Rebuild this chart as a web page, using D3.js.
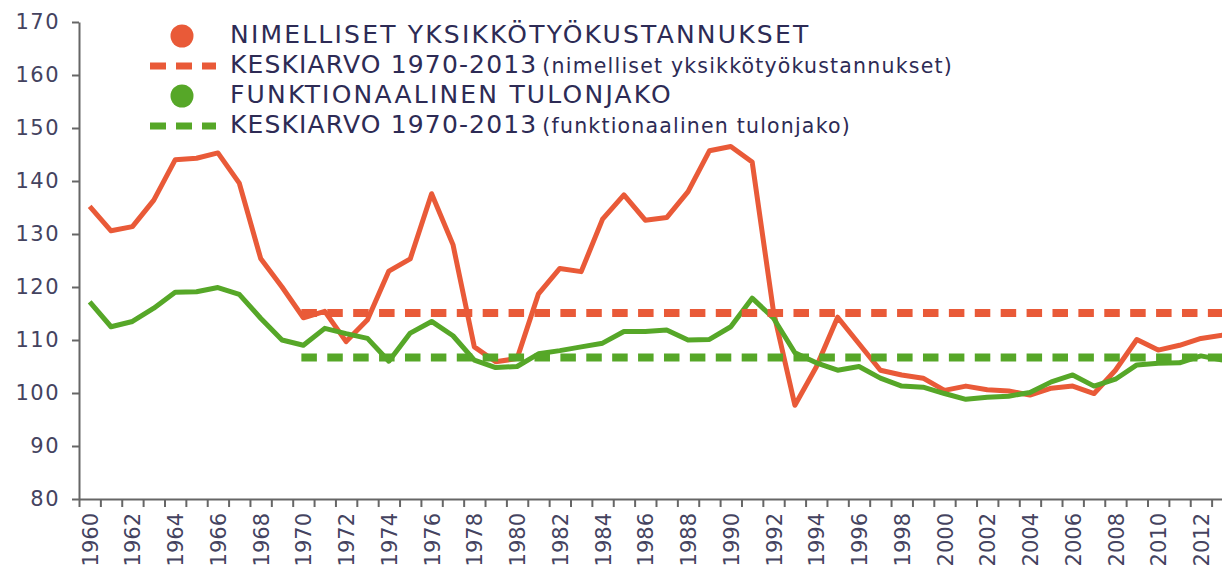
<!DOCTYPE html>
<html>
<head>
<meta charset="utf-8">
<script src="https://cdn.jsdelivr.net/npm/d3@7"></script>
<style>
  body { margin: 0; background: #fff; }
  svg { display: block; }
</style>
</head>
<body>
<script>
const width = 1222;
const height = 577;

const years = [1960, 1961, 1962, 1963, 1964, 1965, 1966, 1967, 1968, 1969,
    1970, 1971, 1972, 1973, 1974, 1975, 1976, 1977, 1978, 1979,
    1980, 1981, 1982, 1983, 1984, 1985, 1986, 1987, 1988, 1989,
    1990, 1991, 1992, 1993, 1994, 1995, 1996, 1997, 1998, 1999,
    2000, 2001, 2002, 2003, 2004, 2005, 2006, 2007, 2008, 2009,
    2010, 2011, 2012, 2013];

// nimelliset yksikkötyökustannukset
const unitLabourCosts = [135.2, 130.6, 131.4, 136.4, 144.0, 144.3, 145.3, 139.6, 125.4, 120.0,
    114.2, 115.4, 109.7, 113.8, 123.0, 125.3, 137.6, 128.0, 108.7, 105.9,
    106.5, 118.7, 123.5, 122.9, 132.8, 137.4, 132.6, 133.1, 138.0, 145.7,
    146.5, 143.6, 115.3, 97.7, 104.9, 114.3, 109.3, 104.3, 103.4, 102.8,
    100.5, 101.3, 100.6, 100.4, 99.6, 100.9, 101.3, 99.9, 104.3, 110.1,
    108.1, 109.0, 110.3, 110.9];

// funktionaalinen tulonjako
const incomeDistribution = [117.2, 112.5, 113.5, 116.0, 119.0, 119.1, 119.9, 118.6, 114.1, 110.0,
    109.0, 112.2, 111.2, 110.3, 106.0, 111.3, 113.5, 110.8, 106.2, 104.8,
    105.0, 107.4, 108.0, 108.7, 109.4, 111.6, 111.6, 111.9, 110.0, 110.1,
    112.5, 117.9, 114.1, 107.6, 105.7, 104.3, 105.0, 102.8, 101.3, 101.1,
    99.9, 98.8, 99.2, 99.4, 100.1, 102.1, 103.4, 101.3, 102.6, 105.3,
    105.6, 105.7, 107.0, 106.2];

// keskiarvot 1970-2013
const meanStart = 1970;
const meanEnd = 2013;
const meanUnitLabourCosts = 115.1;
const meanIncomeDistribution = 106.7;

const yTicks = [80, 90, 100, 110, 120, 130, 140, 150, 160, 170];
const xLabelYears = years.filter(d => d % 2 === 0);

const legendItems = [
    { kind: "dot", color: "#e95a38", main: "NIMELLISET YKSIKKÖTYÖKUSTANNUKSET", sub: "" },
    { kind: "dash", color: "#e95a38", main: "KESKIARVO 1970-2013", sub: "(nimelliset yksikkötyökustannukset)" },
    { kind: "dot", color: "#56a728", main: "FUNKTIONAALINEN TULONJAKO", sub: "" },
    { kind: "dash", color: "#56a728", main: "KESKIARVO 1970-2013", sub: "(funktionaalinen tulonjako)" }
];

const red = "#e95a38";
const green = "#56a728";
const textColor = "#2d2b55";
const axisColor = "#666";

const left = 79;
const bandW = 21.37;
const x = d3.scaleLinear()
    .domain([1960, 2014])
    .range([left, left + 54 * bandW]);
const y = d3.scaleLinear()
    .domain([80, 170])
    .range([499, 22]);

const svg = d3.select(document.body).append("svg")
    .attr("width", width)
    .attr("height", height);

// y axis
const yAxis = svg.append("g")
    .attr("transform", `translate(${left},0)`)
    .call(d3.axisLeft(y).tickValues(yTicks).tickSize(7).tickPadding(12).tickSizeOuter(0));
yAxis.select(".domain").attr("stroke", axisColor).attr("stroke-width", 2);
yAxis.selectAll(".tick line").attr("stroke", axisColor).attr("stroke-width", 2);
yAxis.selectAll("text")
    .attr("fill", "#44435f")
    .attr("font-family", "DejaVu Sans")
    .attr("font-size", 21)
    .attr("letter-spacing", 1.5);

// x axis: ticks at year boundaries
const xAxis = svg.append("g")
    .attr("transform", `translate(0,${y(80)})`)
    .call(d3.axisBottom(x).tickValues(years.concat([2014])).tickFormat("").tickSize(8).tickSizeOuter(0));
xAxis.select(".domain").attr("stroke", axisColor).attr("stroke-width", 2);
xAxis.selectAll(".tick line").attr("stroke", axisColor).attr("stroke-width", 2);

// x labels centred on each year
const xLabels = svg.append("g")
    .attr("transform", `translate(0,${y(80)})`)
    .call(d3.axisBottom(x).tickValues(xLabelYears.map(d => d + 0.5)).tickFormat(d => Math.floor(d)).tickSize(0));
xLabels.select(".domain").remove();
xLabels.selectAll("text")
    .attr("transform", "rotate(-90)")
    .attr("x", -14)
    .attr("y", 0)
    .attr("dy", "0.36em")
    .attr("text-anchor", "end")
    .attr("fill", "#44435f")
    .attr("font-family", "DejaVu Sans")
    .attr("font-size", 21);

// series lines
const line = d3.line()
    .x((d, i) => x(years[i] + 0.5))
    .y(d => y(d));

svg.append("path")
    .datum(unitLabourCosts)
    .attr("fill", "none")
    .attr("stroke", red)
    .attr("stroke-width", 5)
    .attr("stroke-linejoin", "round")
    .attr("d", line);

svg.append("path")
    .datum(incomeDistribution)
    .attr("fill", "none")
    .attr("stroke", green)
    .attr("stroke-width", 5)
    .attr("stroke-linejoin", "round")
    .attr("d", line);

// mean lines
const means = [
    { value: meanUnitLabourCosts, color: red },
    { value: meanIncomeDistribution, color: green }
];
svg.append("g")
    .selectAll("line")
    .data(means)
    .join("line")
    .attr("x1", x(meanStart + 0.5) - 2)
    .attr("x2", x(meanEnd + 1))
    .attr("y1", d => y(d.value))
    .attr("y2", d => y(d.value))
    .attr("stroke", d => d.color)
    .attr("stroke-width", 8)
    .attr("stroke-dasharray", "15.5,10.4");

// legend
const legend = svg.append("g");
const item = legend.selectAll("g")
    .data(legendItems)
    .join("g")
    .attr("transform", (d, i) => `translate(0,${43 + i * 30})`);

item.filter(d => d.kind === "dot").append("circle")
    .attr("cx", 182)
    .attr("cy", -7)
    .attr("r", 11.5)
    .attr("fill", d => d.color);

item.filter(d => d.kind === "dash").append("line")
    .attr("x1", 150)
    .attr("x2", 216)
    .attr("y1", -7)
    .attr("y2", -7)
    .attr("stroke", d => d.color)
    .attr("stroke-width", 7)
    .attr("stroke-dasharray", "16,10");

const label = item.append("text")
    .attr("x", 230)
    .attr("fill", textColor)
    .attr("font-family", "DejaVu Sans");
label.append("tspan")
    .attr("font-size", 25)
    .attr("letter-spacing", d => d.kind === "dot" ? 2.2 : 1.15)
    .text(d => d.main);
label.append("tspan")
    .attr("font-size", 20.5)
    .attr("letter-spacing", 1.2)
    .attr("dx", 5)
    .text(d => d.sub);
</script>
</body>
</html>
